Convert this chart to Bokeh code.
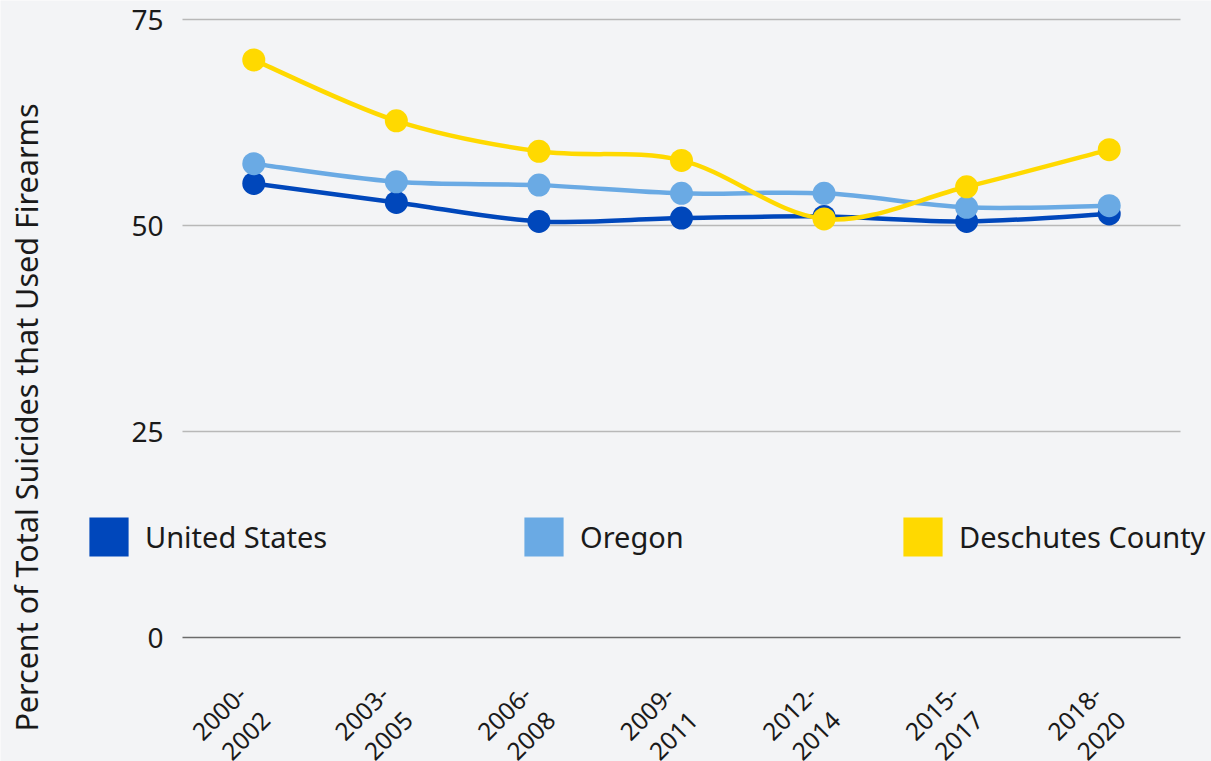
import numpy as np
from math import pi
from bokeh.plotting import figure
from bokeh.models import Range1d, Legend, LegendItem, ColumnDataSource, Grid
from bokeh.embed import file_html
from bokeh.resources import INLINE

# ---------------- data ----------------
periods = ["2000-\n2002", "2003-\n2005", "2006-\n2008", "2009-\n2011",
           "2012-\n2014", "2015-\n2017", "2018-\n2020"]
united_states = [55.1, 52.8, 50.5, 50.9, 51.1, 50.5, 51.4]
oregon = [57.5, 55.3, 54.9, 53.9, 53.9, 52.2, 52.4]
deschutes = [70.1, 62.7, 59.0, 57.9, 50.8, 54.7, 59.2]
series_names = ["United States", "Oregon", "Deschutes County"]
series_colors = ["#0047BB", "#6AAAE4", "#FFD900"]
y_ticks = [0, 25, 50, 75]
y_tick_labels = ["0", "25", "50", "75"]
y_title = "Percent of Total Suicides that Used Firearms"

# ---------------- layout (pixels) ----------------
W, H = 1211, 761
PLOT_LEFT, PLOT_RIGHT, PLOT_TOP, PLOT_BOTTOM = 182, 1180, 19, 637
FONT = "Noto Sans"
TXT = "#1a1a1a"
BG = "#F3F4F6"

n = len(periods)
idx = list(range(n))
y_min, y_max = y_ticks[0], y_ticks[-1]
unit_x = (PLOT_RIGHT - PLOT_LEFT) / n
unit_y = (PLOT_BOTTOM - PLOT_TOP) / (y_max - y_min)
x_start = -0.5 - PLOT_LEFT / unit_x
x_end = n - 0.5 + (W - PLOT_RIGHT) / unit_x
y_start = y_min - (H - PLOT_BOTTOM) / unit_y
y_end = y_max + PLOT_TOP / unit_y


def px_x(px):
    return x_start + px / unit_x


def px_y(py):
    return y_end - py / unit_y


p = figure(width=W, height=H, output_backend="svg", toolbar_location=None,
           x_range=Range1d(x_start, x_end), y_range=Range1d(y_start, y_end),
           x_axis_location=None, y_axis_location=None, title=None,
           min_border=0)
p.background_fill_color = BG
p.border_fill_color = BG
p.outline_line_color = None
for obj in list(p.center):
    if isinstance(obj, Grid):
        obj.visible = False

# horizontal grid lines (0 line darker)
grid_colors = ["#6b6b6b" if t == y_min else "#b8b8b8" for t in y_ticks]
p.segment(x0=[-0.5] * len(y_ticks), x1=[n - 0.5] * len(y_ticks), y0=y_ticks, y1=y_ticks,
          line_color=grid_colors, line_width=1.5)

# y tick labels
p.text(x=[-0.5] * len(y_ticks), y=y_ticks, text=y_tick_labels, x_offset=-19,
       text_align="right", text_baseline="middle", text_font={"value": FONT},
       text_font_size="28px", text_color=TXT)


def smooth_segments(xs, ys, k=1.0 / 6.0):
    x = np.asarray(xs, float)
    y = np.asarray(ys, float)
    m = len(x)
    xp = np.concatenate([[x[0]], x, [x[-1]]])
    yp = np.concatenate([[y[0]], y, [y[-1]]])
    cx0 = x[:-1] + (xp[2:m + 1] - xp[0:m - 1]) * k
    cy0 = y[:-1] + (yp[2:m + 1] - yp[0:m - 1]) * k
    cx1 = x[1:] - (xp[3:m + 2] - xp[1:m]) * k
    cy1 = y[1:] - (yp[3:m + 2] - yp[1:m]) * k
    return dict(x0=x[:-1], y0=y[:-1], x1=x[1:], y1=y[1:],
                cx0=cx0, cy0=cy0, cx1=cx1, cy1=cy1)


legend_renderers = []
for vals, col in zip([united_states, oregon, deschutes], series_colors):
    seg = smooth_segments(idx, vals)
    p.bezier(x0="x0", y0="y0", x1="x1", y1="y1", cx0="cx0", cy0="cy0",
             cx1="cx1", cy1="cy1", source=ColumnDataSource(seg),
             line_color=col, line_width=4.5)
    p.scatter(idx, vals, size=23, fill_color=col, line_color=None)
    r = p.vbar(x=idx, top=vals, width=0.5, fill_color=col, line_color=None, visible=False)
    legend_renderers.append(r)

# legend entries spread across the plot (box left edges / bottom in px)
legend_left_px = [84, 519, 898]
legend_bottom_px = 561
for name, r, lx in zip(series_names, legend_renderers, legend_left_px):
    lg = Legend(items=[LegendItem(label=name, renderers=[r])],
                location=(lx, H - legend_bottom_px),
                orientation="horizontal", glyph_width=49, glyph_height=49,
                label_standoff=12, padding=0, margin=0, spacing=0,
                border_line_color=None, background_fill_alpha=0,
                label_text_font=FONT, label_text_font_size="29px",
                label_text_color=TXT, label_text_baseline="middle")
    p.add_layout(lg)

# x category labels, rotated 45 degrees, two lines each
first_lines = [s.split("\n")[0] for s in periods]
second_lines = [s.split("\n")[1] for s in periods]
p.text(x=idx, y=[px_y(PLOT_BOTTOM + 75.5)] * n, text=first_lines, x_offset=-34.5,
       angle=pi / 4, text_align="center", text_baseline="middle",
       text_font={"value": FONT}, text_font_size="24.5px", text_color=TXT)
p.text(x=idx, y=[px_y(PLOT_BOTTOM + 98)] * n, text=second_lines, x_offset=-8,
       angle=pi / 4, text_align="center", text_baseline="middle",
       text_font={"value": FONT}, text_font_size="24.5px", text_color=TXT)

# y axis title
p.text(x=[px_x(25)], y=[px_y(417)], text=[y_title], angle=pi / 2,
       text_align="center", text_baseline="middle", text_font={"value": FONT},
       text_font_size="30.5px", text_color=TXT)

open("out.html", "w").write(file_html(p, INLINE))
